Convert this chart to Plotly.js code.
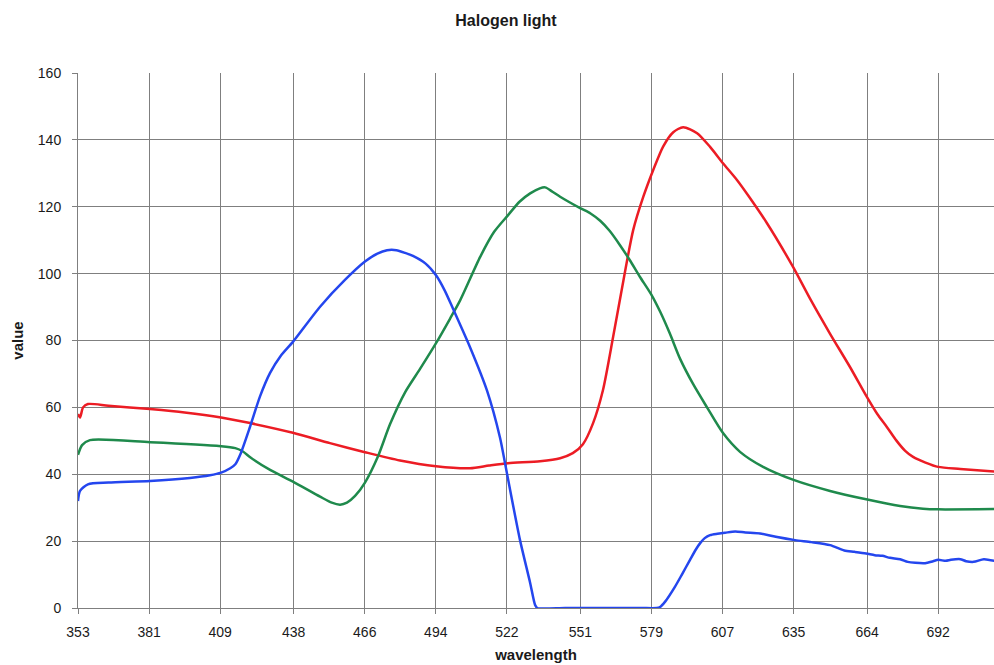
<!DOCTYPE html>
<html>
<head>
<meta charset="utf-8">
<script src="https://cdn.plot.ly/plotly-3.0.1.min.js"></script>
<style>html,body{margin:0;padding:0;background:#fff}#chart{width:994px;height:665px}</style>
</head>
<body>
<div id="chart"></div>
<script>
// Tick labels (wavelength categories shown on the axis)
var tickLabels = [353, 381, 409, 438, 466, 494, 522, 551, 579, 607, 635, 664, 692];

// Red channel
var redWl  = [353, 353.8, 355, 356.9, 365, 381.4, 395, 409.4, 420.8, 437.7, 452.3, 466.1, 479.9, 494.1, 507.5, 515, 522.5, 535.1, 543, 548, 552, 556, 559.9, 563.9, 567, 571.8, 575.8, 579.7, 583.6, 587.6, 591.5, 597, 602.1, 607.2, 612.7, 617, 624.6, 634.8, 641.5, 649.4, 657.3, 663.6, 668, 671.9, 675.4, 679, 682.1, 687, 692, 700.7, 714.1];
var redVal = [58, 57, 60, 61, 60.5, 59.5, 58.5, 57, 55.3, 52.4, 49.3, 46.6, 44.1, 42.4, 41.8, 42.6, 43.3, 43.9, 44.8, 46.3, 49, 55.3, 65.2, 81.1, 94, 113, 123, 131, 138, 142.3, 143.8, 142, 137.9, 133, 128, 123.5, 115, 102, 92.5, 82, 72, 63.5, 58, 54, 50.2, 47, 45.2, 43.5, 42.2, 41.6, 40.8];

// Green channel
var greenWl  = [353, 354.6, 357.7, 381.4, 409.4, 415, 418, 421, 428.7, 437.7, 448.4, 453, 456.3, 459, 462.2, 466.1, 471.2, 476, 481.9, 487.8, 494.1, 499.6, 503.6, 511.5, 517, 522.5, 527, 531.2, 535, 537.1, 540, 543, 550.9, 555, 558.8, 562.5, 566.6, 570.5, 574.5, 578.9, 582.5, 586.3, 590.3, 595.4, 600.9, 607.2, 613.9, 623, 635, 649.4, 663.6, 677, 686, 692, 714.1];
var greenVal = [45.8, 48.7, 50.2, 49.6, 48.4, 47.8, 46.8, 45, 41.3, 37.8, 33.3, 31.5, 30.9, 31.5, 33.5, 37.5, 45.3, 55, 64.5, 71.5, 79.2, 86.5, 92, 105, 112.5, 117.5, 121.5, 124, 125.5, 125.8, 124.5, 123, 119.6, 118, 115.8, 112.8, 108.5, 104, 99, 93.8, 88.5, 82, 74.5, 67, 60, 52.3, 46.7, 42.2, 38.3, 35, 32.5, 30.5, 29.7, 29.5, 29.6];

// Blue channel
var blueWl  = [353, 353.8, 356.9, 365, 381.4, 397.1, 405, 409.4, 413, 415, 417, 420.8, 424.7, 428.7, 433, 437.7, 448.4, 458.2, 466.1, 471, 474.8, 478.5, 481.9, 485, 490, 494.1, 497.5, 500.8, 507.5, 514.2, 519.3, 521.3, 523.3, 527.2, 531.2, 533.1, 534, 545, 560, 575, 581, 582.4, 584.4, 588.3, 591, 594.2, 596.5, 598.2, 600, 602.1, 605, 608, 612, 616, 621.8, 628, 635.6, 642, 649.4, 655, 659, 663.6, 667, 670, 673, 677, 680, 683, 686.9, 690, 692, 695, 697, 700.7, 703, 706, 710, 714.1];
var blueVal = [32, 35, 37, 37.5, 38, 38.9, 39.7, 40.5, 41.8, 43, 46, 54.2, 63.2, 70.3, 75.5, 79.6, 90.1, 98.1, 103.6, 106, 107, 107, 106.2, 105.3, 103, 99.5, 95, 89.5, 78, 65, 51, 43.3, 35.3, 20.3, 7.5, 1, 0, 0, 0, 0, 0, 0.3, 1.9, 6.4, 10, 14.4, 17.5, 19.4, 20.9, 21.8, 22.2, 22.5, 22.9, 22.6, 22.3, 21.3, 20.3, 19.7, 18.8, 17.2, 16.8, 16.3, 15.8, 15.6, 15, 14.6, 13.8, 13.5, 13.4, 14, 14.4, 14.1, 14.4, 14.6, 14, 13.8, 14.6, 14.1];

var fontFam = "'Liberation Sans', Arial, sans-serif";
var gridCol = "#7f7f7f";

function series(x, y, color) {
  return {
    x: x, y: y, type: "scatter", mode: "lines",
    line: {color: color, width: 2.5, shape: "spline", smoothing: 0.7},
    hoverinfo: "skip"
  };
}

var data = [
  series(redWl, redVal, "#ec1c24"),
  series(greenWl, greenVal, "#1f8a4c"),
  series(blueWl, blueVal, "#2446ee")
];

var layout = {
  width: 994, height: 665,
  margin: {l: 78, r: 0, t: 73, b: 57},
  paper_bgcolor: "#ffffff", plot_bgcolor: "#ffffff",
  showlegend: false,
  font: {family: fontFam, size: 14, color: "#1a1a1a"},
  title: {
    text: "<b>Halogen light</b>",
    font: {family: fontFam, size: 16, color: "#1a1a1a"},
    x: 0.509, xref: "container", xanchor: "center",
    y: 1 - 20 / 665, yref: "container", yanchor: "middle"
  },
  xaxis: {
    range: [353, 714],
    tickmode: "array",
    tickvals: tickLabels,
    ticktext: tickLabels.map(String),
    showgrid: true, gridcolor: gridCol, gridwidth: 1,
    showline: true, linecolor: gridCol, linewidth: 1,
    ticks: "outside", ticklen: 5, tickcolor: gridCol,
    ticklabelstandoff: 6,
    zeroline: false,
    tickfont: {family: fontFam, size: 14, color: "#1a1a1a"},
    title: {text: "<b>wavelength</b>", font: {family: fontFam, size: 15, color: "#1a1a1a"}, standoff: 10}
  },
  yaxis: {
    range: [0, 160],
    tickmode: "linear", tick0: 0, dtick: 20,
    showgrid: true, gridcolor: gridCol, gridwidth: 1,
    showline: true, linecolor: gridCol, linewidth: 1,
    ticks: "outside", ticklen: 5, tickcolor: gridCol,
    ticklabelstandoff: 8,
    zeroline: false,
    tickfont: {family: fontFam, size: 14, color: "#1a1a1a"},
    title: {text: "<b>value</b>", font: {family: fontFam, size: 15, color: "#1a1a1a"}, standoff: 10}
  }
};

Plotly.newPlot("chart", data, layout, {staticPlot: true, displayModeBar: false});
</script>
</body>
</html>
